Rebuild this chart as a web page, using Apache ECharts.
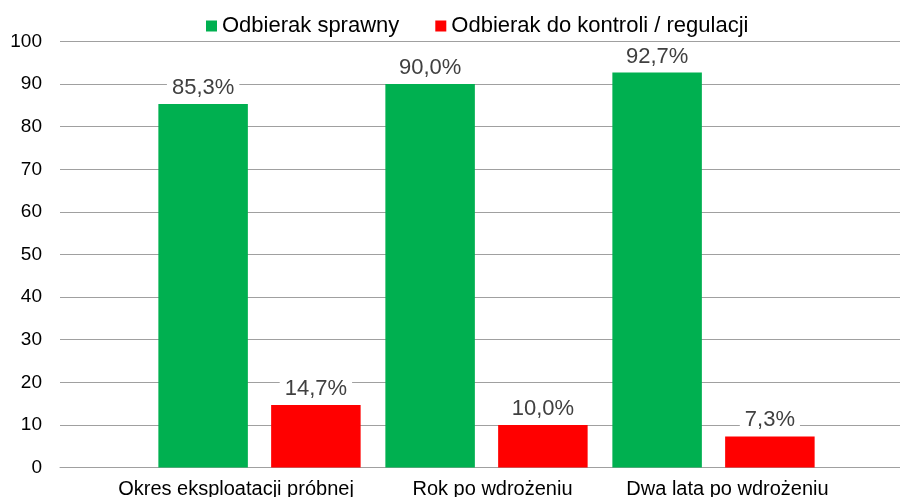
<!DOCTYPE html>
<html><head><meta charset="utf-8">
<script src="https://cdn.jsdelivr.net/npm/echarts@6/dist/echarts.min.js"></script>
<style>html,body{margin:0;padding:0;background:#fff}#c{width:900px;height:497px}</style>
</head><body><div id="c"></div>
<script>
const categories = ['Okres eksploatacji próbnej', 'Rok po wdrożeniu', 'Dwa lata po wdrożeniu'];
const seriesNames = ['Odbierak sprawny', 'Odbierak do kontroli / regulacji'];
const sprawny = [85.3, 90.0, 92.7];
const kontrola = [14.7, 10.0, 7.3];
const yTicks = { min: 0, max: 100, interval: 10 };

const font = 'Liberation Sans, Arial, sans-serif';
const chart = echarts.init(document.getElementById('c'));
const lbl = {
  show: true, position: 'top', distance: 4,
  fontFamily: font, fontSize: 22, color: '#404040',
  backgroundColor: '#fff', padding: [1, 5],
  formatter: p => p.value.toFixed(1).replace('.', ',') + '%'
};
chart.setOption({
  animation: false,
  legend: {
    left: 201, top: 10, itemWidth: 11, itemHeight: 11, itemGap: 36, icon: 'rect',
    textStyle: { fontFamily: font, fontSize: 22, color: '#000' },
    data: seriesNames
  },
  grid: [
    { left: 60, right: 0, top: 41.5, bottom: 29.5, outerBoundsMode: 'none', containLabel: false },
    { left: 146, width: 681, top: 41.5, bottom: 29.5, outerBoundsMode: 'none', containLabel: false }
  ],
  xAxis: [
    { gridIndex: 0, type: 'value', min: 0, max: 1, axisLine: { show: true, lineStyle: { color: '#a0a0a0', width: 1 } },
      axisTick: { show: false }, axisLabel: { show: false }, splitLine: { show: false } },
    { gridIndex: 1, type: 'category', data: categories, axisLine: { show: false }, axisTick: { show: false },
      axisLabel: {
        interval: 0, hideOverlap: false,
        margin: 12, fontFamily: font, fontSize: 20, color: '#000',
        formatter: (v, i) => '{l' + i + '|' + v + '}',
        rich: {
          l0: { fontFamily: font, fontSize: 20, color: '#000', padding: [0, 47, 0, 0] },
          l1: { fontFamily: font, fontSize: 20, color: '#000', padding: [0, 0, 0, 12] },
          l2: { fontFamily: font, fontSize: 20, color: '#000', padding: [0, 0, 0, 28] }
        }
      } }
  ],
  yAxis: [
    { gridIndex: 0, type: 'value', min: yTicks.min, max: yTicks.max, interval: yTicks.interval,
      axisLine: { show: false }, axisTick: { show: false },
      axisLabel: { margin: 18, fontFamily: font, fontSize: 19, color: '#000' },
      splitLine: { lineStyle: { color: '#a0a0a0', width: 1 } } },
    { gridIndex: 1, type: 'value', min: yTicks.min, max: yTicks.max, interval: yTicks.interval, show: false, splitLine: { show: false } }
  ],
  series: [
    { name: seriesNames[0], type: 'bar', xAxisIndex: 1, yAxisIndex: 1, data: sprawny,
      barWidth: 89.5, barGap: '26%', itemStyle: { color: '#00B050' }, label: lbl },
    { name: seriesNames[1], type: 'bar', xAxisIndex: 1, yAxisIndex: 1, data: kontrola,
      barWidth: 89.5, barGap: '26%', itemStyle: { color: '#FF0000' }, label: lbl }
  ]
});
</script></body></html>
